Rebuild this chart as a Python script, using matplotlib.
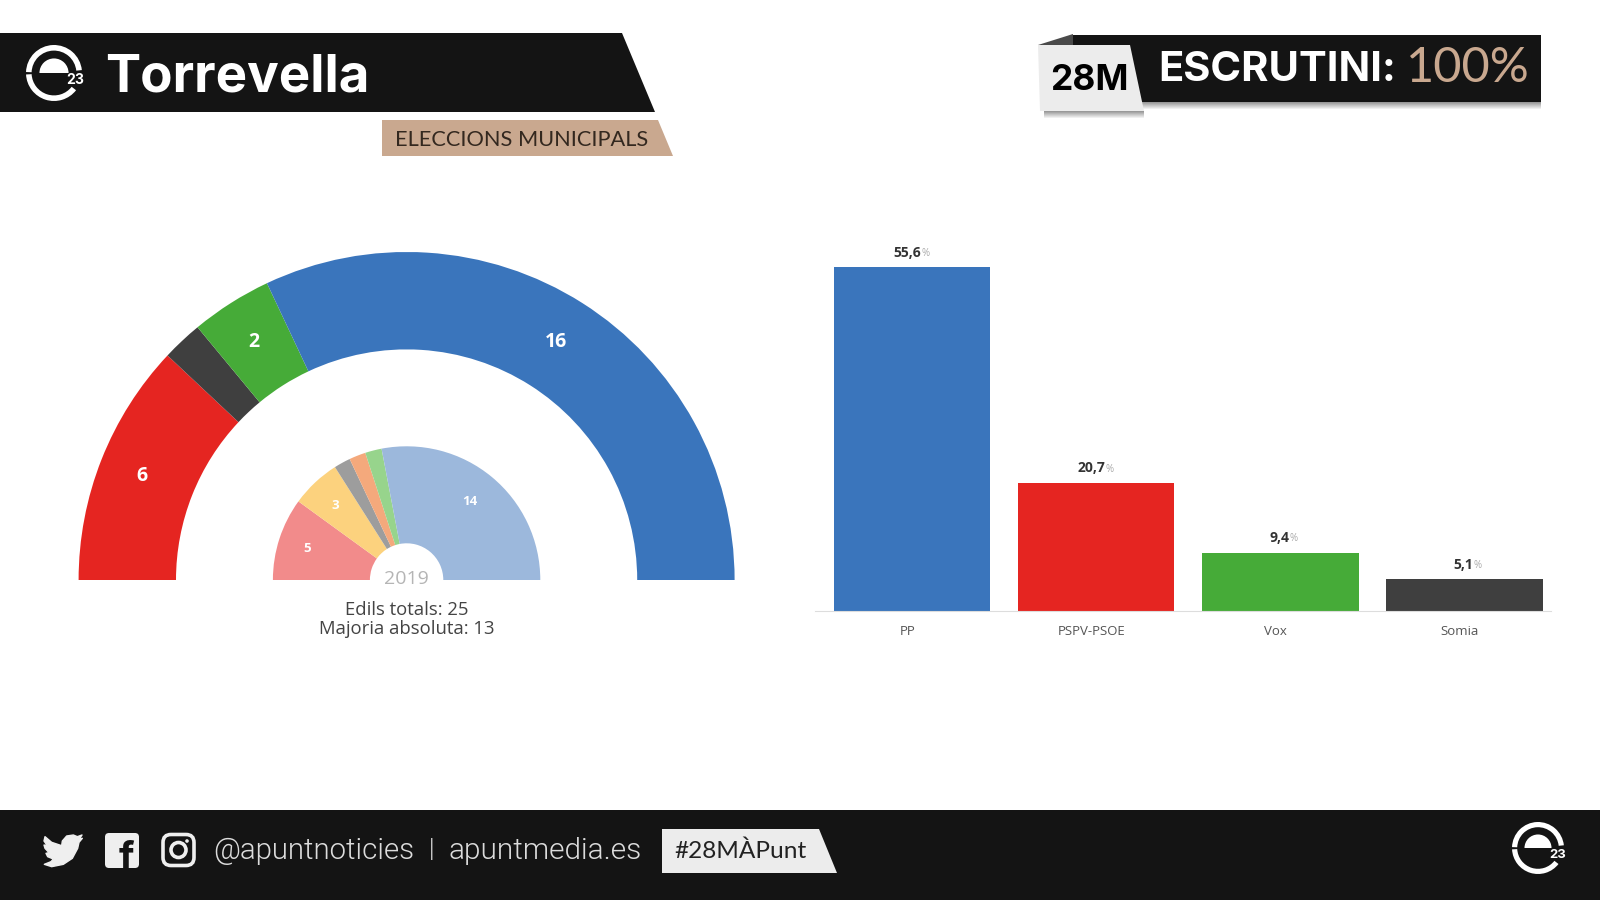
import matplotlib
matplotlib.use("Agg")
import numpy as np
from matplotlib import pyplot as plt
from matplotlib.patches import Polygon, Wedge, Rectangle, Circle, FancyBboxPatch

## dades
seats_now = [6, 1, 2, 16]
colors_now = ["#e52521", "#3f3f3f", "#46ab38", "#3a75bc"]
seats_2019 = [5, 3, 1, 1, 1, 14]
colors_2019 = ["#f28b8b", "#fcd27e", "#9d9d9d", "#f4a97c", "#97d48c", "#9cb8dc"]

parties = ["PP", "PSPV-PSOE", "Vox", "Somia"]
votes = [55.6, 20.7, 9.4, 5.1]
vote_labels = ["55,6", "20,7", "9,4", "5,1"]
bar_colors = ["#3a75bc", "#e52521", "#46ab38", "#3f3f3f"]

BLACK = "#141414"
TAN = "#c9a88f"
SANS = "Open Sans"
HEAD = "Inter"

plt.rcParams["font.family"] = [SANS, "DejaVu Sans"]

fig = plt.figure(figsize=(16, 9), dpi=100, facecolor="white")


def px_axes(x0, y0, x1, y1):
    """ axes placed with pixel coordinates, y measured from the top """
    return fig.add_axes([x0 / 1600, 1 - y1 / 900, (x1 - x0) / 1600, (y1 - y0) / 900])


## capa de fons: banners and footer, y goes down like in the screenshot
deco = px_axes(0, 0, 1600, 900)
deco.set_xlim(0, 1600)
deco.set_ylim(900, 0)
deco.axis("off")


def logo(cx, cy, r, color="white"):
    w = r * 0.2
    deco.add_patch(Wedge((cx, cy), r, -178, -6, width=w, fc=color, ec="none"))
    deco.add_patch(Wedge((cx, cy), r, -322, -183, width=w, fc=color, ec="none"))
    deco.add_patch(Wedge((cx, cy), r * 0.52, -180, 0, fc=color, ec="none"))
    deco.add_patch(Rectangle((cx + r * 0.32, cy + r * 0.02), r * 0.9, r * 0.44, fc=BLACK, ec="none"))
    deco.text(cx + r * 0.76, cy + r * 0.25, "23", color=color, fontsize=r * 0.36, fontweight="bold",
              family=HEAD, ha="center", va="center")


deco.add_patch(Polygon([(0, 33), (622, 33), (655, 112), (0, 112)], fc=BLACK, ec="none"))
logo(54, 73, 28)
deco.text(105, 78, "Torrevella", color="white", fontsize=38, fontweight="bold", family=HEAD, va="center")

deco.add_patch(Polygon([(382, 120), (658, 120), (673, 156), (382, 156)], fc=TAN, ec="none"))
deco.text(395, 140, "ELECCIONS MUNICIPALS", color="#33281f", fontsize=15.7, family="Lato", va="center")

## escrutini, top right
for i in range(7):
    deco.add_patch(Rectangle((1140, 102 + i), 401, 1, fc="#555555", alpha=0.6 * (1 - i / 7), ec="none"))
    deco.add_patch(Rectangle((1044, 111 + i), 100, 1, fc="#555555", alpha=0.6 * (1 - i / 7), ec="none"))
deco.add_patch(Rectangle((1073, 35), 468, 67, fc=BLACK, ec="none"))
deco.add_patch(Polygon([(1038, 45), (1073, 34), (1073, 45)], fc="#4a4a4a", ec="none"))
deco.add_patch(Polygon([(1038, 45), (1130, 45), (1144, 111), (1040, 111)], fc="#ececec", ec="none"))
deco.text(1089, 80, "28M", color="black", fontsize=25.5, fontweight="bold", family=HEAD, ha="center", va="center")
deco.text(1158, 70, "ESCRUTINI:", color="white", fontsize=30, fontweight="bold", family=HEAD, va="center")
deco.text(1406, 68, "100%", color=TAN, fontsize=35, family="Lato", va="center")

## peu
deco.add_patch(Rectangle((0, 810), 1600, 90, fc=BLACK, ec="none"))
ICON = "#efefef"
bird = np.array([(30, 35), (50, 52), (80, 62), (82, 48), (95, 33), (115, 30), (127, 35), (141, 30),
                 (133, 42), (142, 40), (132, 52), (128, 70), (112, 100), (85, 118), (50, 125),
                 (28, 118), (48, 110), (55, 102), (38, 95), (33, 85), (42, 83), (30, 70), (27, 60),
                 (37, 62), (27, 48)]) / 3 + (35, 825)
deco.add_patch(Polygon(bird, fc=ICON, ec=ICON, lw=1, joinstyle="round"))

deco.add_patch(FancyBboxPatch((108, 836), 28, 29, boxstyle="round,pad=3,rounding_size=4", fc=ICON, ec="none"))
deco.text(126, 870, "f", color=BLACK, fontsize=28, fontweight="bold", family=HEAD, ha="center", va="baseline",
          clip_on=True, clip_path=Rectangle((105, 833), 34, 35, transform=deco.transData))

deco.add_patch(FancyBboxPatch((164, 835.5), 29, 29, boxstyle="round,pad=1,rounding_size=8", fc="none", ec=ICON, lw=2.6))
deco.add_patch(Circle((178.5, 850), 7.5, fc="none", ec=ICON, lw=2.6))
deco.add_patch(Circle((187, 841), 1.8, fc=ICON, ec="none"))

FOOT = "#dcdcdc"
deco.text(213, 851, "@apuntnoticies", color=FOOT, fontsize=21.2, family="Roboto", fontweight=300, va="center")
deco.text(432, 850, "|", color=FOOT, fontsize=18, family="Roboto", fontweight=300, ha="center", va="center")
deco.text(448, 851, "apuntmedia.es", color=FOOT, fontsize=21.4, family="Roboto", fontweight=300, va="center")
deco.add_patch(Polygon([(662, 829), (819, 829), (837, 873), (662, 873)], fc="#ececec", ec="none"))
deco.text(674, 851, "#28MÀPunt", color="#222222", fontsize=17.6, family="Lato", va="center")
logo(1538, 848, 26)


## hemicicle
hemi = px_axes(60, 240, 760, 660)
hemi.set_xlim(-346.6, 353.4)
hemi.set_ylim(-80, 340)
hemi.set_aspect("equal")
hemi.axis("off")


def hemicycle(seats, colors, r, inner, label_r, min_label, fontsize, label_color="white"):
    total = sum(seats)
    done = 0
    for n, c in zip(seats, colors):
        t1 = 180 - (done + n) / total * 180
        t2 = 180 - done / total * 180
        hemi.add_patch(Wedge((0, 0), r, t1, t2, width=r - inner, fc=c, ec="none"))
        if n >= min_label:
            mid = np.radians((t1 + t2) / 2)
            hemi.text(label_r * np.cos(mid) - 2, label_r * np.sin(mid), str(n), color=label_color,
                      fontsize=fontsize, fontweight="bold", ha="center", va="center")
        done += n


hemicycle(seats_now, colors_now, 328, 230.6, 282, 2, 14)
hemicycle(seats_2019, colors_2019, 133.7, 36.7, 102, 3, 9.5)
hemi.text(0, 1, "2019", color="#b5b5b5", fontsize=14, ha="center", va="center")
hemi.text(0, -30, "Edils totals: 25", color="#444444", fontsize=13.3, ha="center", va="center")
hemi.text(0, -49, "Majoria absoluta: 13", color="#444444", fontsize=13.3, ha="center", va="center")

## barres
ax = px_axes(815, 235, 1551, 611)
x = np.arange(len(parties))
ax.bar(x, votes, width=0.85, color=bar_colors)
ax.set_xlim(-0.527, 3.47)
ax.set_ylim(0, 60.8)
ax.patch.set_alpha(0)
ax.set_yticks([])
ax.set_xticks([])
for s in ["top", "left", "right"]:
    ax.spines[s].set_visible(False)
ax.spines["bottom"].set_color("#dddddd")

for i, p in enumerate(parties):
    ax.annotate(p, (x[i], 0), xytext=(-3.5, -14.5), textcoords="offset points", ha="center", va="center",
                color="#555555", fontsize=9.5)
    ax.annotate(vote_labels[i], (x[i], votes[i]), xytext=(6.5, 10.5), textcoords="offset points", ha="right",
                va="center", color="#333333", fontsize=10, fontweight="bold")
    ax.annotate("%", (x[i], votes[i]), xytext=(6.5, 10), textcoords="offset points", ha="left",
                va="center", color="#aaaaaa", fontsize=7)

plt.savefig("out.png", dpi=100)
